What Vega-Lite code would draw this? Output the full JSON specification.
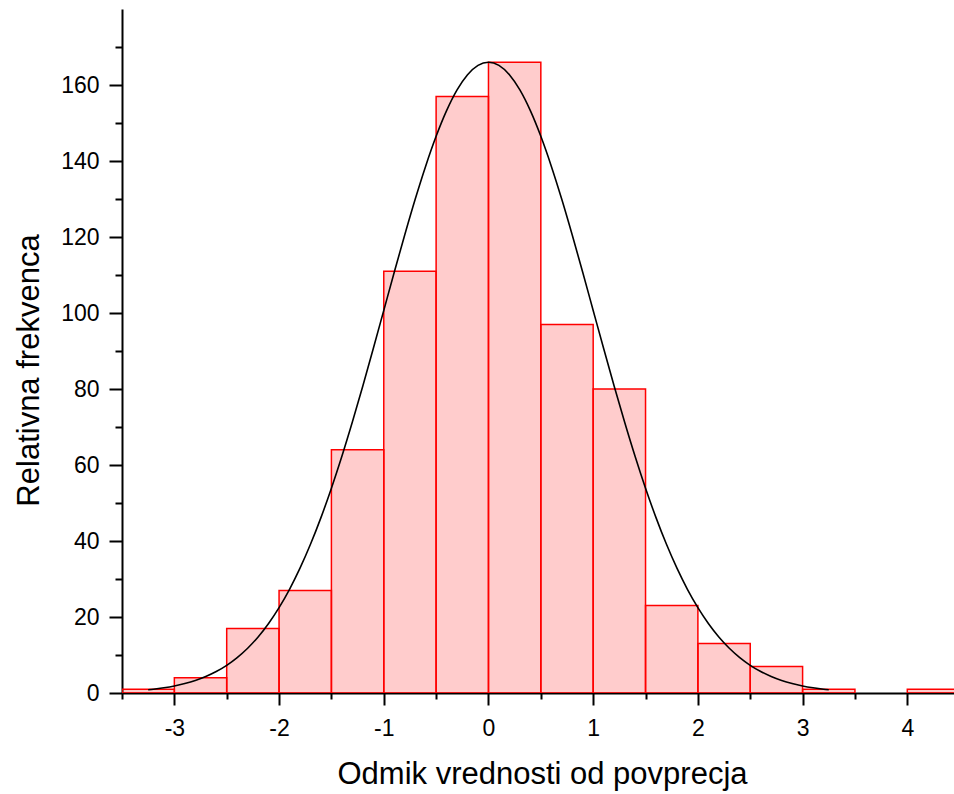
{
  "$schema": "https://vega.github.io/schema/vega-lite/v6.json",
  "width": 832,
  "height": 684,
  "autosize": "none",
  "padding": {"left": 122, "top": 9, "right": 0, "bottom": 101},
  "background": "white",
  "config": {
    "view": {"stroke": null},
    "axis": {
      "domainColor": "black",
      "domainWidth": 2,
      "tickColor": "black",
      "tickWidth": 2,
      "labelFont": "Liberation Sans",
      "labelFontSize": 23,
      "labelColor": "black",
      "titleFont": "Liberation Sans",
      "titleFontSize": 31,
      "titleFontWeight": "normal",
      "titleColor": "black",
      "grid": false,
      "zindex": 1
    }
  },
  "layer": [
    {
      "data": {
        "values": [
          {"bin_start": -3.5, "bin_end": -3.0, "count": 1},
          {"bin_start": -3.0, "bin_end": -2.5, "count": 4},
          {"bin_start": -2.5, "bin_end": -2.0, "count": 17},
          {"bin_start": -2.0, "bin_end": -1.5, "count": 27},
          {"bin_start": -1.5, "bin_end": -1.0, "count": 64},
          {"bin_start": -1.0, "bin_end": -0.5, "count": 111},
          {"bin_start": -0.5, "bin_end": 0.0, "count": 157},
          {"bin_start": 0.0, "bin_end": 0.5, "count": 166},
          {"bin_start": 0.5, "bin_end": 1.0, "count": 97},
          {"bin_start": 1.0, "bin_end": 1.5, "count": 80},
          {"bin_start": 1.5, "bin_end": 2.0, "count": 23},
          {"bin_start": 2.0, "bin_end": 2.5, "count": 13},
          {"bin_start": 2.5, "bin_end": 3.0, "count": 7},
          {"bin_start": 3.0, "bin_end": 3.5, "count": 1},
          {"bin_start": 4.0, "bin_end": 4.5, "count": 1}
        ]
      },
      "mark": {"type": "rect", "fill": "#ff0000", "fillOpacity": 0.2, "stroke": "#ff0000", "strokeWidth": 1.5, "clip": true},
      "encoding": {
        "x": {
          "field": "bin_start",
          "type": "quantitative",
          "scale": {"domain": [-3.5, 4.446], "nice": false, "zero": false},
          "axis": {
            "title": "Odmik vrednosti od povprecja",
            "values": [-3.5, -3, -2.5, -2, -1.5, -1, -0.5, 0, 0.5, 1, 1.5, 2, 2.5, 3, 3.5, 4],
            "labelExpr": "datum.value % 1 === 0 ? '' + datum.value : ''",
            "tickSize": {"condition": {"test": "datum.value % 1 === 0", "value": 12}, "value": 6},
            "labelPadding": 12,
            "labelFlush": false,
            "labelOverlap": false,
            "titleX": 420,
            "titleY": 90,
            "titleBaseline": "alphabetic",
            "titleAnchor": null
          }
        },
        "x2": {"field": "bin_end"},
        "y": {
          "field": "count",
          "type": "quantitative",
          "scale": {"domain": [0, 180], "nice": false},
          "axis": {
            "title": "Relativna frekvenca",
            "values": [0, 10, 20, 30, 40, 50, 60, 70, 80, 90, 100, 110, 120, 130, 140, 150, 160, 170],
            "labelExpr": "datum.value % 20 === 0 ? '' + datum.value : ''",
            "tickSize": {"condition": {"test": "datum.value % 20 === 0", "value": 13}, "value": 7},
            "labelPadding": 10,
            "labelFlush": false,
            "labelOverlap": false,
            "titleX": -84,
            "titleY": 361,
            "titleAngle": -90,
            "titleAlign": "center",
            "titleBaseline": "alphabetic",
            "titleAnchor": null
          }
        },
        "y2": {"datum": 0}
      }
    },
    {
      "data": {
        "values": [
          {"x": -3.25, "y": 0.85}, {"x": -3.2, "y": 0.99}, {"x": -3.1, "y": 1.36}, {"x": -3.0, "y": 1.84},
          {"x": -2.9, "y": 2.48}, {"x": -2.8, "y": 3.29}, {"x": -2.7, "y": 4.34}, {"x": -2.6, "y": 5.65},
          {"x": -2.5, "y": 7.29}, {"x": -2.4, "y": 9.32}, {"x": -2.3, "y": 11.79}, {"x": -2.2, "y": 14.76},
          {"x": -2.1, "y": 18.30}, {"x": -2.0, "y": 22.47}, {"x": -1.9, "y": 27.30}, {"x": -1.8, "y": 32.85},
          {"x": -1.7, "y": 39.13}, {"x": -1.6, "y": 46.15}, {"x": -1.5, "y": 53.89}, {"x": -1.4, "y": 62.30},
          {"x": -1.3, "y": 71.31}, {"x": -1.2, "y": 80.80}, {"x": -1.1, "y": 90.65}, {"x": -1.0, "y": 100.68},
          {"x": -0.9, "y": 110.72}, {"x": -0.8, "y": 120.54}, {"x": -0.7, "y": 129.93}, {"x": -0.6, "y": 138.65},
          {"x": -0.5, "y": 146.49}, {"x": -0.4, "y": 153.24}, {"x": -0.3, "y": 158.70}, {"x": -0.2, "y": 162.71},
          {"x": -0.1, "y": 165.17}, {"x": 0.0, "y": 166.0},
          {"x": 0.1, "y": 165.17}, {"x": 0.2, "y": 162.71}, {"x": 0.3, "y": 158.70}, {"x": 0.4, "y": 153.24},
          {"x": 0.5, "y": 146.49}, {"x": 0.6, "y": 138.65}, {"x": 0.7, "y": 129.93}, {"x": 0.8, "y": 120.54},
          {"x": 0.9, "y": 110.72}, {"x": 1.0, "y": 100.68}, {"x": 1.1, "y": 90.65}, {"x": 1.2, "y": 80.80},
          {"x": 1.3, "y": 71.31}, {"x": 1.4, "y": 62.30}, {"x": 1.5, "y": 53.89}, {"x": 1.6, "y": 46.15},
          {"x": 1.7, "y": 39.13}, {"x": 1.8, "y": 32.85}, {"x": 1.9, "y": 27.30}, {"x": 2.0, "y": 22.47},
          {"x": 2.1, "y": 18.30}, {"x": 2.2, "y": 14.76}, {"x": 2.3, "y": 11.79}, {"x": 2.4, "y": 9.32},
          {"x": 2.5, "y": 7.29}, {"x": 2.6, "y": 5.65}, {"x": 2.7, "y": 4.34}, {"x": 2.8, "y": 3.29},
          {"x": 2.9, "y": 2.48}, {"x": 3.0, "y": 1.84}, {"x": 3.1, "y": 1.36}, {"x": 3.2, "y": 0.99},
          {"x": 3.25, "y": 0.85}
        ]
      },
      "mark": {"type": "line", "color": "black", "strokeWidth": 1.6, "interpolate": "monotone"},
      "encoding": {
        "x": {"field": "x", "type": "quantitative"},
        "y": {"field": "y", "type": "quantitative"}
      }
    }
  ]
}
